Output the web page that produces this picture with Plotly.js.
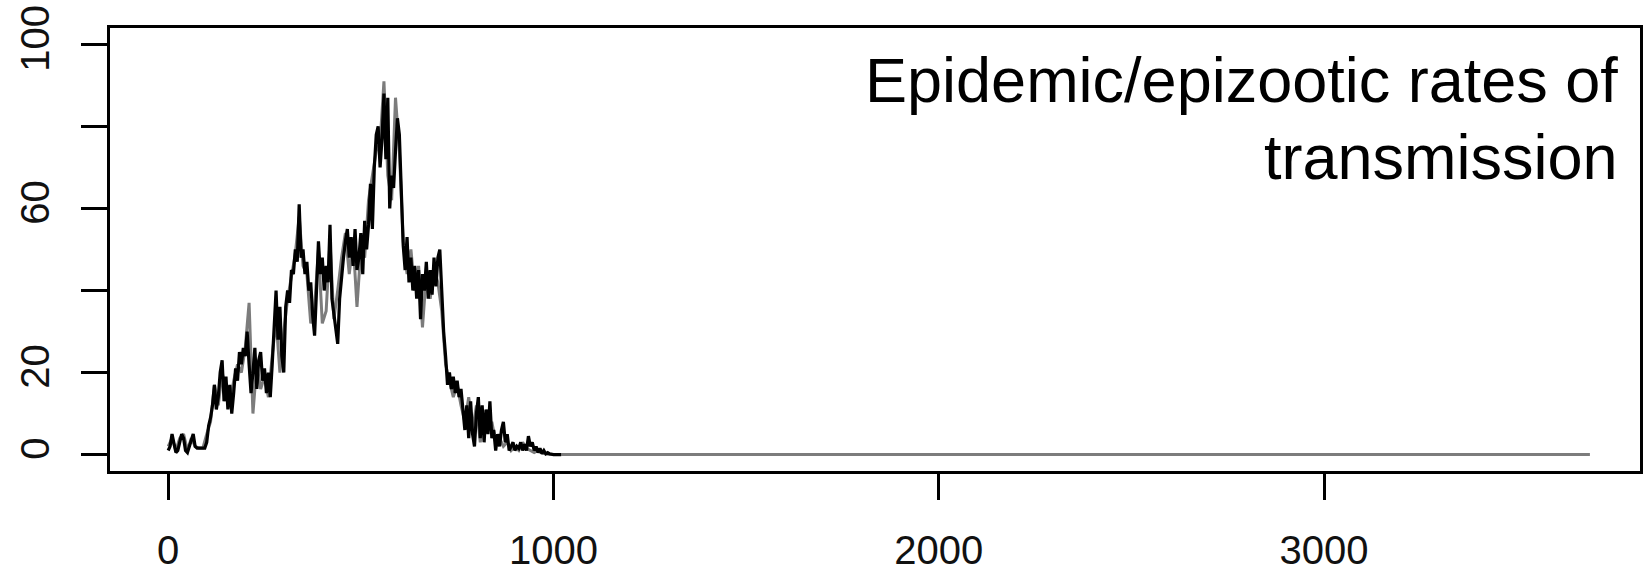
<!DOCTYPE html>
<html>
<head>
<meta charset="utf-8">
<script src="https://cdn.plot.ly/plotly-3.0.1.min.js"></script>
<style>
  html, body { margin: 0; padding: 0; background: #ffffff; }
  #chart { width: 1644px; height: 574px; }
</style>
</head>
<body>
<div id="chart"></div>
<script>
// ---- Data ----
// Black series: daily simulation, sampled every 5 days from day 0 to day 1020
const blackStartDay = 0;
const blackStepDays = 5;
const blackValues = [
  1, 2, 5, 3, 0.5, 1, 3, 5, 4, 1,
  0.5, 2, 3, 5, 2, 1.6, 1.6, 1.6, 1.6, 1.6,
  3, 7, 9, 12, 17, 11, 14, 20, 23, 13,
  19, 11, 17, 10, 15, 21, 18, 25, 22, 26,
  24, 30, 22, 15, 20, 26, 16, 23, 25, 18,
  21, 15, 20, 14, 22, 30, 40, 28, 36, 24,
  20, 36, 40, 37, 45, 44, 50, 47, 61, 48,
  50, 44, 47, 40, 42, 34, 29, 40, 52, 44,
  48, 40, 46, 42, 56, 38, 34, 30, 27, 38,
  44, 48, 52, 55, 48, 53, 46, 55, 45, 48,
  54, 44, 57, 50, 56, 66, 55, 70, 78, 80,
  70, 77, 88, 72, 87, 60, 68, 65, 74, 82,
  78, 62, 51, 45, 53, 42, 48, 40, 46, 38,
  45, 33, 44, 40, 47, 38, 45, 39, 48, 41,
  48, 50, 38, 30, 24, 17, 20, 16, 19, 15,
  18, 14, 16, 11, 6, 12, 4, 13, 5, 2,
  10, 14, 4, 12, 3, 11, 5, 13, 4, 6,
  1, 5, 2, 6, 8, 3, 5, 1, 2, 3,
  1, 2, 1.5, 3, 1, 2.5, 1, 4.5, 2, 3,
  1, 2, 0.5, 1.5, 0.3, 1, 0.2, 0.5, 0.2, 0,
  0, 0, 0, 0, 0
];

// Grey series: sampled every 10 days from day 0 to day 1020, then flat at zero
const greyStartDay = 0;
const greyStepDays = 10;
const greyValues = [
  2, 4, 1, 4, 5, 1, 4, 2, 1.6, 1.6,
  5, 8, 17, 12, 20, 16, 12, 18, 22, 20,
  26, 37, 10, 22, 16, 19, 14, 24, 33, 20,
  30, 38, 44, 49, 58, 46, 44, 32, 36, 50,
  32, 35, 52, 33, 40, 48, 54, 44, 52, 36,
  50, 48, 62, 68, 74, 76, 91, 68, 62, 87,
  74, 52, 44, 50, 40, 46, 31, 44, 38, 45,
  42, 35, 22, 18, 14, 17, 12, 8, 14, 6,
  12, 3, 10, 6, 8, 3, 4, 2, 3, 1,
  2, 1, 3, 1.5, 1, 0.5, 1, 0.3, 0.2, 0,
  0, 0, 0
];
const greyTailDays = [1020, 3690];
const greyTailValues = [0, 0];

// Axis ticks
const xTickValues = [0, 1000, 2000, 3000];
const xTickLabels = ['0', '1000', '2000', '3000'];
const yTickValues = [0, 20, 40, 60, 80, 100];
const yTickLabels = ['0', '20', '', '60', '', '100'];

const annotationLines = ['Epidemic/epizootic rates of', 'transmission'];

// ---- Chart ----
const FONT = '"Liberation Sans", Arial, Helvetica, sans-serif';
const greyColor = '#7c7c7c';

const traces = [
  {
    type: 'scatter', mode: 'lines',
    x0: greyStartDay, dx: greyStepDays, y: greyValues,
    line: { color: greyColor, width: 3 },
    hoverinfo: 'skip', showlegend: false
  },
  {
    type: 'scatter', mode: 'lines',
    x: greyTailDays, y: greyTailValues,
    line: { color: greyColor, width: 3 },
    hoverinfo: 'skip', showlegend: false
  },
  {
    type: 'scatter', mode: 'lines',
    x0: blackStartDay, dx: blackStepDays, y: blackValues,
    line: { color: '#000000', width: 3.2 },
    hoverinfo: 'skip', showlegend: false
  }
];

const axisCommon = {
  showgrid: false, zeroline: false,
  showline: true, mirror: true, linecolor: '#000000', linewidth: 3,
  ticks: 'outside', ticklen: 26, tickwidth: 3, tickcolor: '#000000',
  tickfont: { family: FONT, size: 40, color: '#111111' },
  tickmode: 'array'
};

const layout = {
  width: 1644, height: 574,
  margin: { l: 110, r: 4, t: 28, b: 103 },
  paper_bgcolor: '#ffffff', plot_bgcolor: '#ffffff',
  font: { family: FONT },
  showlegend: false,
  xaxis: Object.assign({}, axisCommon, {
    range: [-151, 3820],
    tickvals: xTickValues, ticktext: xTickLabels,
    ticklabelstandoff: 16
  }),
  yaxis: Object.assign({}, axisCommon, {
    range: [-4, 104],
    tickvals: yTickValues, ticktext: yTickLabels,
    tickangle: -90,
    ticklabelstandoff: 16
  }),
  annotations: [
    {
      xref: 'paper', yref: 'paper', x: 0.987, y: 0.883,
      xanchor: 'right', yanchor: 'middle', showarrow: false,
      text: annotationLines[0],
      font: { family: FONT, size: 63, color: '#000000' }
    },
    {
      xref: 'paper', yref: 'paper', x: 0.987, y: 0.709,
      xanchor: 'right', yanchor: 'middle', showarrow: false,
      text: annotationLines[1],
      font: { family: FONT, size: 63, color: '#000000' }
    }
  ]
};

Plotly.newPlot('chart', traces, layout, { staticPlot: true, displayModeBar: false });
</script>
</body>
</html>
